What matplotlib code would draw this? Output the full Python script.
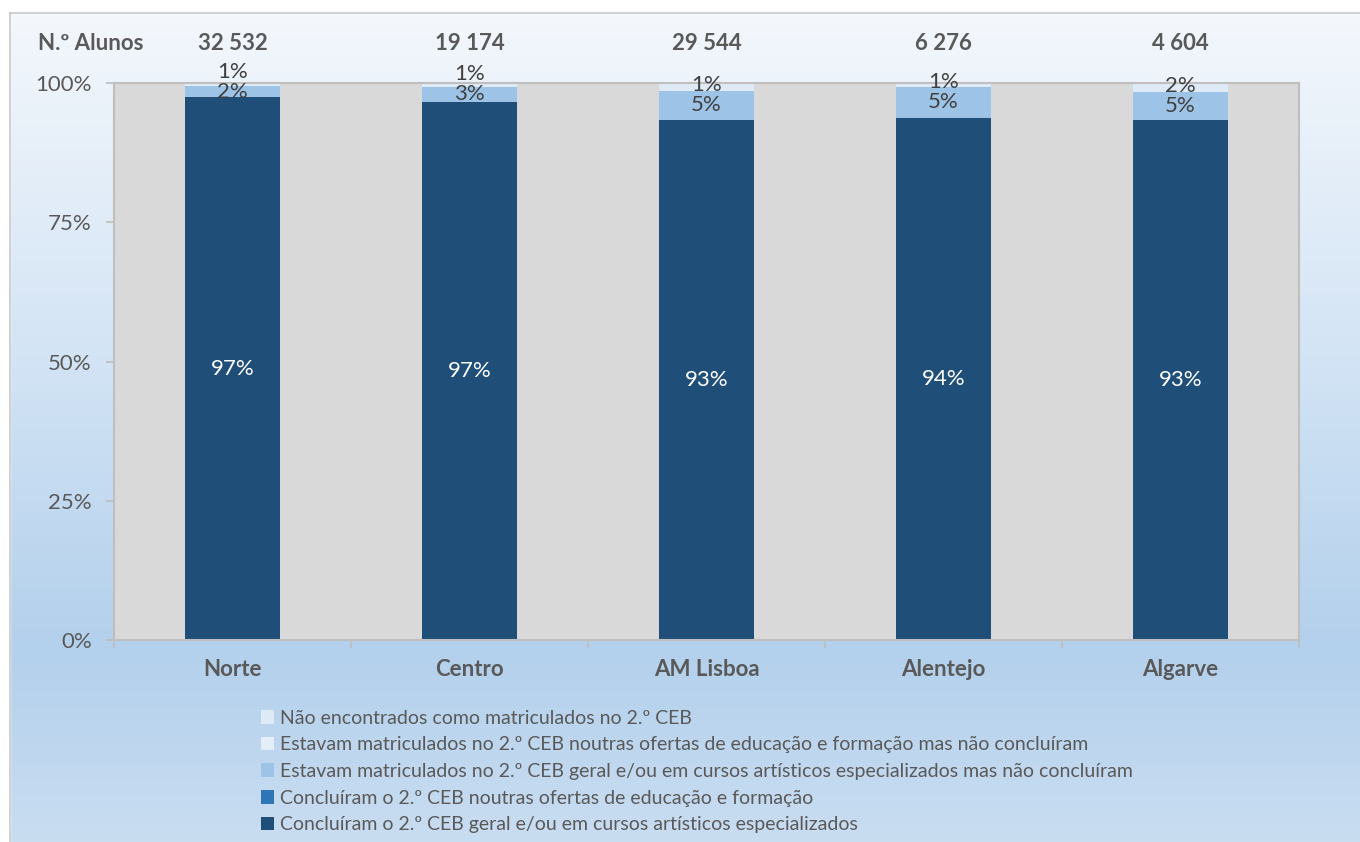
import numpy as np
import matplotlib
matplotlib.use("Agg")
from matplotlib import pyplot as plt
from matplotlib.colors import LinearSegmentedColormap
from matplotlib.ticker import FixedLocator

plt.rcParams['font.family'] = ['Lato', 'DejaVu Sans']

regioes = ["Norte", "Centro", "AM Lisboa", "Alentejo", "Algarve"]
alunos = ["32 532", "19 174", "29 544", "6 276", "4 604"]

# percentagens (bottom -> top)
concl_geral = [97.4, 96.6, 93.4, 93.8, 93.4]
concl_outras = [0.0, 0.0, 0.0, 0.0, 0.0]
matric_geral = [2.0, 2.7, 5.2, 5.4, 5.0]
matric_outras = [0.0, 0.0, 0.0, 0.0, 0.0]
nao_encontr = [0.6, 0.7, 1.4, 0.8, 1.6]

series_names = [
    "Concluíram o 2.º CEB geral e/ou em cursos artísticos especializados",
    "Concluíram o 2.º CEB noutras ofertas de educação e formação",
    "Estavam matriculados no 2.º CEB geral e/ou em cursos artísticos especializados mas não concluíram",
    "Estavam matriculados no 2.º CEB noutras ofertas de educação e formação mas não concluíram",
    "Não encontrados como matriculados no 2.º CEB",
]
series_vals = [concl_geral, concl_outras, matric_geral, matric_outras, nao_encontr]
series_cols = ["#1f4e79", "#2e75b6", "#9dc3e6", "#e4eef8", "#deebf7"]

txt = "#595959"
fs = 16

fig = plt.figure(figsize=(13.6, 8.42), dpi=100)

# gradient background
bg = fig.add_axes([0, 0, 1, 1], zorder=-10)
cmap = LinearSegmentedColormap.from_list(
    "bg", [(0, "#f5f8fc"), (0.42, "#d3e4f5"), (0.77, "#b3d0ec"), (1.0, "#c9ddf1")])
grad = np.linspace(0, 1, 256).reshape(-1, 1)
bg.imshow(grad, aspect="auto", cmap=cmap, extent=[0, 1, 0, 1], origin="upper")
bg.add_patch(plt.Rectangle((0, 0), 10 / 1360, 1, color="white", zorder=2))
bg.add_patch(plt.Rectangle((0, 1 - 13 / 842), 1, 13 / 842, color="white", zorder=2))
bg.plot([10 / 1360, 10 / 1360], [0, 1 - 13 / 842], color="#c8c8c8", lw=1.2, zorder=3)
bg.plot([10 / 1360, 1], [1 - 13 / 842, 1 - 13 / 842], color="#c8c8c8", lw=1.2, zorder=3)
bg.set_xlim(0, 1)
bg.set_ylim(0, 1)
bg.axis("off")

ax = fig.add_axes([114 / 1360, 1 - 640 / 842, (1299 - 114) / 1360, (640 - 83) / 842])
ax.set_facecolor("#d9d9d9")
x = np.arange(len(regioes))
bottom = np.zeros(len(regioes))
last_lab = np.full(len(regioes), -10.0)
for name, vals, col in zip(series_names, series_vals, series_cols):
    vals = np.array(vals)
    ax.bar(x, vals, 0.4, bottom=bottom, color=col, label=name, zorder=2)
    for i, (xi, b, v) in enumerate(zip(x, bottom, vals)):
        if v <= 0:
            continue
        lab = "%d%%" % round(v)
        yc = b + v / 2
        if col == "#1f4e79":
            ax.text(xi, yc, lab, ha="center", va="center",
                    color="white", fontsize=fs, zorder=4)
        else:
            # avoid stacking small labels on top of each other
            yc = max(yc, last_lab[i] + 3.6)
            ax.text(xi, yc, lab, ha="center", va="center",
                    color="#404040", fontsize=fs, zorder=4, clip_on=False)
        last_lab[i] = yc
    bottom += vals

ax.set_xlim(-0.5, 4.5)
ax.set_ylim(0, 100)
ax.set_yticks([0, 25, 50, 75, 100])
ax.set_yticklabels(["0%", "25%", "50%", "75%", "100%"], fontsize=fs, color=txt)
ax.set_xticks(x)
ax.set_xticklabels(regioes, fontsize=fs, fontweight="bold", color=txt)
ax.xaxis.set_minor_locator(FixedLocator(np.arange(-0.5, 5, 1)))
ax.tick_params(axis="x", which="major", length=0, pad=14)
ax.tick_params(axis="x", which="minor", length=6, color="#bfbfbf", width=1.2)
ax.tick_params(axis="y", length=6, color="#bfbfbf", width=1.2, pad=10)
for s in ax.spines.values():
    s.set_color("#bfbfbf")
    s.set_linewidth(1.5)

# N.º Alunos row
ax.text(-0.6, 107.1, "N.º Alunos", ha="center", va="center", fontsize=fs,
        fontweight="bold", color=txt, clip_on=False)
for xi, n in zip(x, alunos):
    ax.text(xi, 107.1, n, ha="center", va="center", fontsize=fs,
            fontweight="bold", color=txt, clip_on=False)

h, l = ax.get_legend_handles_labels()
fig.legend(h[::-1], l[::-1], loc="upper left", bbox_to_anchor=(243 / 1360, 1 - 692 / 842),
           frameon=False, fontsize=14, labelcolor=txt, handlelength=0.7,
           handleheight=0.7, handletextpad=0.3, labelspacing=0.5)

fig.savefig("out.png", dpi=100)
